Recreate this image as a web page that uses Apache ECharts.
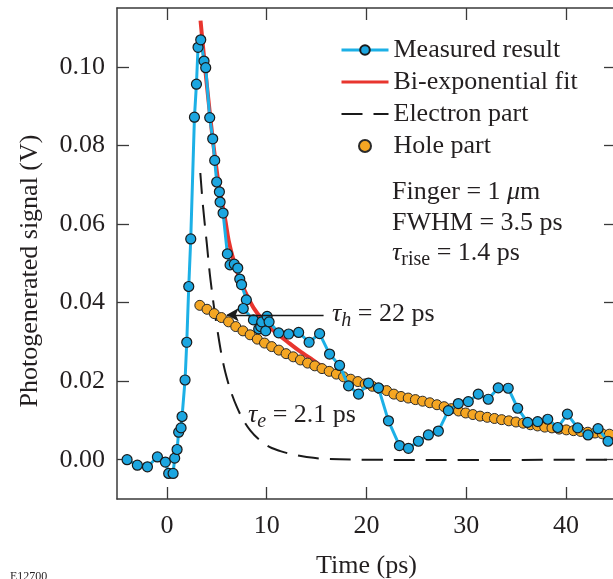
<!DOCTYPE html>
<html>
<head>
<meta charset="utf-8">
<script src="https://cdn.jsdelivr.net/npm/echarts@6/dist/echarts.min.js"></script>
<style>html,body{margin:0;padding:0;background:#fff;}#c{width:613px;height:579px;}</style>
</head>
<body>
<div id="c"></div>
<script>
// ---- data ----
const xTicks = [0, 10, 20, 30, 40];
const yTicks = [0, 0.02, 0.04, 0.06, 0.08, 0.10];

const measuredT = [-3.99,-2.96,-1.95,-0.95,-0.15,0.18,0.62,0.78,1.02,1.18,1.42,1.52,1.82,1.99,2.19,2.39,2.76,2.96,3.12,3.39,3.72,3.89,4.29,4.59,4.79,4.99,5.26,5.33,5.63,6.06,6.33,6.75,7.10,7.30,7.48,7.96,7.65,8.67,9.20,9.40,9.90,9.50,10.04,10.24,11.2,12.2,13.2,14.25,15.3,16.3,17.3,18.2,19.2,20.2,21.2,22.2,23.3,24.2,25.2,26.2,27.2,28.2,29.2,30.2,31.2,32.2,33.2,34.2,35.15,36.15,37.15,38.16,39.16,40.13,41.16,42.2,43.2,44.2];
const measuredV = [0.0000,-0.0014,-0.0018,0.0007,-0.0006,-0.0035,-0.0035,0.0004,0.0026,0.0070,0.0081,0.0110,0.0203,0.0299,0.0441,0.0562,0.0872,0.0956,0.1050,0.1069,0.1015,0.0998,0.0871,0.0817,0.0762,0.0707,0.0682,0.0656,0.0628,0.0524,0.0496,0.0498,0.0488,0.0460,0.0446,0.0407,0.0385,0.0356,0.0333,0.0339,0.0328,0.0351,0.0365,0.0351,0.0323,0.0320,0.0324,0.0299,0.0321,0.0269,0.0240,0.0188,0.0167,0.0195,0.0183,0.0099,0.0036,0.0029,0.0047,0.0063,0.0073,0.0125,0.0143,0.0148,0.0167,0.0154,0.0183,0.0182,0.0131,0.0095,0.0097,0.0103,0.0082,0.0116,0.0081,0.0063,0.0079,0.0047];

const fitT = [3.37,3.72,4.29,4.79,5.26,5.86,6.19,6.69,7.36,8.03,8.70,9.54,10.7,12.04,13.38,14.4,15.2,16.0,17.0,18.0,19.0,20.2,22.0,24.0,26.0,28.0,30.0,32.0,34.0,36.0,38.0,40.0,42.0,44.0,45.0];
const fitV = [0.1118,0.1025,0.0885,0.0775,0.0690,0.0609,0.0558,0.0507,0.0456,0.0418,0.0386,0.0358,0.0328,0.0301,0.0275,0.0258,0.0243,0.0231,0.0219,0.0209,0.0199,0.0189,0.0175,0.0158,0.0147,0.0133,0.0119,0.0108,0.0100,0.0091,0.0083,0.0076,0.0070,0.0065,0.0063];

const electronT = [3.35,3.60,4.00,4.36,5.03,5.86,7.03,8.37,10.04,11.37,12.7,14.0,16.0,20.0,30.0,40.0,45.0];
const electronV = [0.0730,0.0650,0.0550,0.0460,0.0335,0.0222,0.0133,0.0074,0.0036,0.0022,0.0013,0.0007,0.0002,0.0000,-0.0001,0.0000,0.0000];

const holeT = [3.30,4.02,4.74,5.46,6.18,6.90,7.62,8.34,9.06,9.78,10.50,11.22,11.94,12.66,13.38,14.10,14.82,15.54,16.26,16.98,17.70,18.42,19.14,19.86,20.58,21.30,22.02,22.74,23.46,24.18,24.90,25.62,26.34,27.06,27.78,28.50,29.22,29.94,30.66,31.38,32.10,32.82,33.54,34.26,34.98,35.70,36.42,37.14,37.86,38.58,39.30,40.02,40.74,41.46,42.18,42.90,43.62,44.34];
const holeV = [0.0393,0.0383,0.0372,0.0362,0.0351,0.0339,0.0328,0.0318,0.0307,0.0297,0.0288,0.0279,0.0270,0.0262,0.0254,0.0246,0.0239,0.0232,0.0225,0.0218,0.0211,0.0205,0.0199,0.0193,0.0187,0.0181,0.0176,0.0167,0.0161,0.0157,0.0153,0.0149,0.0145,0.0140,0.0135,0.0130,0.0124,0.0119,0.0115,0.0111,0.0108,0.0105,0.0102,0.0099,0.0096,0.0093,0.0089,0.0086,0.0083,0.0081,0.0078,0.0076,0.0074,0.0072,0.0070,0.0068,0.0066,0.0065];

const arrowFrom = [15.7, 0.0369];
const arrowTo = [6.0, 0.0369];

const seriesNames = ['Measured result', 'Bi-exponential fit', 'Electron part', 'Hole part'];
// ---------------------------------------

const zip = (a, b) => a.map((v, i) => [v, b[i]]);
const SERIF = '"Liberation Serif", "Times New Roman", serif';
const INK = '#231f20';

const chart = echarts.init(document.getElementById('c'), null, {renderer: 'canvas'});

const axisCommon = {
  axisLine: {show: true, onZero: false, lineStyle: {color: '#3a3a3a', width: 1.5}},
  axisTick: {show: true, inside: true, length: 12, lineStyle: {color: '#3a3a3a', width: 1.3}},
  splitLine: {show: false}
};

chart.setOption({
  animation: false,
  backgroundColor: '#fff',
  grid: {left: 117, right: -3, top: 8, bottom: 80, containLabel: false, outerBoundsMode: 'none'},
  xAxis: [
    Object.assign({}, axisCommon, {
      type: 'value', position: 'bottom', min: -5, max: 45,
      axisTick: Object.assign({}, axisCommon.axisTick, {customValues: xTicks}),
      axisLabel: {customValues: xTicks, margin: 14, fontFamily: SERIF, fontSize: 26, color: INK},
      name: 'Time (ps)', nameLocation: 'middle', nameGap: 54,
      nameTextStyle: {fontFamily: SERIF, fontSize: 26, color: INK}
    }),
    Object.assign({}, axisCommon, {
      type: 'value', position: 'top', min: -5, max: 45,
      axisTick: Object.assign({}, axisCommon.axisTick, {customValues: xTicks}),
      axisLabel: {show: false}
    })
  ],
  yAxis: [
    Object.assign({}, axisCommon, {
      type: 'value', position: 'left', min: -0.01, max: 0.115,
      axisTick: Object.assign({}, axisCommon.axisTick, {customValues: yTicks}),
      axisLabel: {customValues: yTicks, margin: 12, fontFamily: SERIF, fontSize: 26, color: INK,
        formatter: v => v.toFixed(2)}
    }),
    Object.assign({}, axisCommon, {
      type: 'value', position: 'right', min: -0.01, max: 0.115,
      axisTick: Object.assign({}, axisCommon.axisTick, {customValues: yTicks}),
      axisLabel: {show: false}
    })
  ],
  legend: {
    orient: 'vertical', left: 335, top: 32, itemWidth: 47, itemHeight: 12, itemGap: 6,
    selectedMode: false,
    textStyle: {fontFamily: SERIF, fontSize: 26, color: INK, lineHeight: 26},
    data: [
      {name: seriesNames[0], lineStyle: {width: 3}},
      {name: seriesNames[1], itemStyle: {opacity: 0}, lineStyle: {width: 3}},
      {name: seriesNames[2], itemStyle: {opacity: 0}, lineStyle: {width: 2}},
      {name: seriesNames[3]}
    ]
  },
  series: [
    {
      name: seriesNames[2], type: 'line', data: zip(electronT, electronV),
      symbol: 'none', smooth: 0.35, z: 1,
      color: '#1a1a1a',
      lineStyle: {color: '#1a1a1a', width: 2, type: [21, 11]}
    },
    {
      name: seriesNames[1], type: 'line', data: zip(fitT, fitV),
      symbol: 'none', smooth: 0.35, z: 2,
      color: '#e8352e',
      lineStyle: {color: '#e8352e', width: 4}
    },
    {
      name: seriesNames[3], type: 'scatter', data: zip(holeT, holeV),
      symbol: 'circle', symbolSize: 10, z: 3,
      itemStyle: {color: '#f5a623', borderColor: '#2a2a2a', borderWidth: 1, opacity: 1}
    },
    {
      name: seriesNames[0], type: 'line', data: zip(measuredT, measuredV),
      symbol: 'circle', symbolSize: 10, showAllSymbol: true, z: 4,
      color: '#1ca6e0',
      lineStyle: {color: '#1cb0e6', width: 3},
      itemStyle: {color: '#1ca6e0', borderColor: '#1a1a1a', borderWidth: 1.2}
    },
    {
      name: 'arrow', type: 'line', data: [], z: 5,
      markLine: {
        silent: true, symbol: ['none', 'arrow'], symbolSize: [10, 12],
        label: {show: false},
        lineStyle: {color: '#1a1a1a', width: 1.3, type: 'solid'},
        data: [[{coord: arrowFrom}, {coord: arrowTo}]]
      }
    }
  ],
  graphic: [
    {type: 'text', left: 392, top: 179, style: {
      text: 'Finger = 1 {i|μ}m', font: '26px ' + SERIF, fill: INK,
      rich: {i: {fontStyle: 'italic', fontFamily: SERIF, fontSize: 26, fill: INK}}}},
    {type: 'text', left: 392, top: 210, style: {
      text: 'FWHM = 3.5 ps', font: '26px ' + SERIF, fill: INK}},
    {type: 'text', left: 392, top: 236, style: {
      text: '{i|τ}{s|rise} = 1.4 ps', fontFamily: SERIF, fontSize: 26, lineHeight: 34, fill: INK,
      rich: {i: {fontStyle: 'italic', fontFamily: SERIF, fontSize: 26, lineHeight: 34},
             s: {fontFamily: SERIF, fontSize: 20, lineHeight: 16, verticalAlign: 'bottom'}}}},
    {type: 'text', left: 332, top: 297, style: {
      text: '{i|τ}{s|h} = 22 ps', fontFamily: SERIF, fontSize: 26, lineHeight: 34, fill: INK,
      rich: {i: {fontStyle: 'italic', fontFamily: SERIF, fontSize: 26, lineHeight: 34},
             s: {fontStyle: 'italic', fontFamily: SERIF, fontSize: 20, lineHeight: 16, verticalAlign: 'bottom'}}}},
    {type: 'text', left: 248, top: 398, style: {
      text: '{i|τ}{s|e} = 2.1 ps', fontFamily: SERIF, fontSize: 26, lineHeight: 34, fill: INK,
      rich: {i: {fontStyle: 'italic', fontFamily: SERIF, fontSize: 26, lineHeight: 34},
             s: {fontStyle: 'italic', fontFamily: SERIF, fontSize: 20, lineHeight: 16, verticalAlign: 'bottom'}}}},
    {type: 'text', x: 30, y: 271, rotation: Math.PI / 2, style: {
      text: 'Photogenerated signal (V)', font: '26px ' + SERIF, fill: INK,
      align: 'center', verticalAlign: 'middle'}},
    {type: 'text', left: 10, top: 571, style: {text: 'E12700', font: '12px ' + SERIF, fill: INK}}
  ]
});
</script>
</body>
</html>
